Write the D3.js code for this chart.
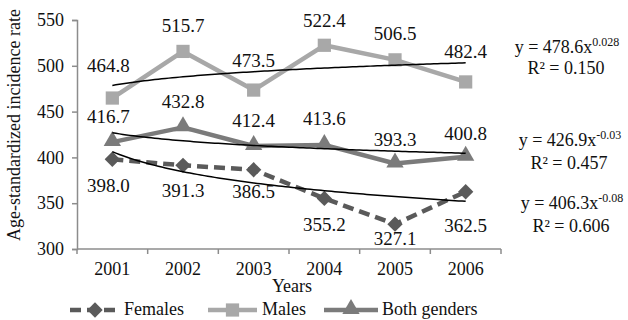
<!DOCTYPE html>
<html>
<head>
<meta charset="utf-8">
<script src="https://cdn.jsdelivr.net/npm/d3@7"></script>
<style>
  html, body { margin: 0; padding: 0; background: #ffffff; }
  svg { display: block; }
  text { font-family: "Liberation Serif", "Times New Roman", serif; fill: #111; }
</style>
</head>
<body>
<svg id="chart" width="628" height="320"></svg>
<script>
// Age-standardized incidence rate by year and gender
const years = ["2001", "2002", "2003", "2004", "2005", "2006"];
const females = [398.0, 391.3, 386.5, 355.2, 327.1, 362.5];
const males = [464.8, 515.7, 473.5, 522.4, 506.5, 482.4];
const both = [416.7, 432.8, 412.4, 413.6, 393.3, 400.8];
const yTicks = [300, 350, 400, 450, 500, 550];

// Power trend fits y = a * x^b (x = 1..6)
const trendA = [478.6, 426.9, 406.3];
const trendB = [0.028, -0.03, -0.08];
const trendLabels = [
  { base: "y = 478.6x", exp: "0.028", r2: "R² = 0.150" },
  { base: "y = 426.9x", exp: "-0.03", r2: "R² = 0.457" },
  { base: "y = 406.3x", exp: "-0.08", r2: "R² = 0.606" }
];

const svg = d3.select("#chart");
const plotLeft = 77, plotRight = 501, plotTop = 20, plotBottom = 249;

const x = d3.scaleBand().domain(years).range([plotLeft, plotRight]);
const y = d3.scaleLinear().domain([300, 550]).range([plotBottom, plotTop]);
const cx = d => x(d) + x.bandwidth() / 2;

const axisColor = "#8c8c8c";

// Y axis
const yAxis = svg.append("g")
  .attr("transform", `translate(${plotLeft},0)`)
  .call(d3.axisLeft(y).tickValues(yTicks).tickSize(5).tickPadding(8));
yAxis.select(".domain").attr("stroke", axisColor).attr("stroke-width", 1.5);
yAxis.selectAll(".tick line").attr("stroke", axisColor).attr("stroke-width", 1.5);
yAxis.selectAll(".tick text")
  .attr("font-size", 18).attr("font-family", "Liberation Serif").attr("fill", "#111");

// X axis: ticks at category boundaries
const xAxisG = svg.append("g").attr("transform", `translate(0,${plotBottom})`);
xAxisG.append("line")
  .attr("x1", plotLeft).attr("x2", plotRight)
  .attr("stroke", axisColor).attr("stroke-width", 1.5);
const boundaries = years.map(d => x(d)).concat([x(years[years.length - 1]) + x.bandwidth()]);
xAxisG.selectAll("line.tk").data(boundaries).enter().append("line")
  .attr("class", "tk")
  .attr("x1", d => d).attr("x2", d => d).attr("y1", 0).attr("y2", 5)
  .attr("stroke", axisColor).attr("stroke-width", 1.5);
xAxisG.selectAll("text").data(years).enter().append("text")
  .attr("x", d => cx(d)).attr("y", 26)
  .attr("text-anchor", "middle").attr("font-size", 18)
  .text(d => d);

// Axis titles
svg.append("text")
  .attr("x", 292).attr("y", 292)
  .attr("text-anchor", "middle").attr("font-size", 18)
  .text("Years");
svg.append("text")
  .attr("transform", "translate(20,125) rotate(-90)")
  .attr("text-anchor", "middle").attr("font-size", 18)
  .text("Age-standardized incidence rate");

// Series definitions
const series = [
  { name: "Females", values: females, color: "#5a5a5a", dash: "11,6", marker: "diamond" },
  { name: "Males", values: males, color: "#a8a8a8", dash: null, marker: "square" },
  { name: "Both genders", values: both, color: "#7b7b7b", dash: null, marker: "triangle" }
];

const markerPath = {
  diamond: d3.symbol().type(d3.symbolDiamond2 || d3.symbolDiamond).size(150)(),
  square: d3.symbol().type(d3.symbolSquare).size(175)(),
  triangle: d3.symbol().type(d3.symbolTriangle).size(130)()
};

const line = d3.line().x((v, i) => cx(years[i])).y(v => y(v));

// Draw order: males, both, females
[series[1], series[2], series[0]].forEach(s => {
  svg.append("path")
    .datum(s.values)
    .attr("d", line)
    .attr("fill", "none")
    .attr("stroke", s.color)
    .attr("stroke-width", 4.5)
    .attr("stroke-dasharray", s.dash)
    .attr("stroke-linejoin", "round");
  svg.selectAll(null).data(s.values).enter().append("path")
    .attr("d", markerPath[s.marker])
    .attr("transform", (v, i) => `translate(${cx(years[i])},${y(v) + (s.marker === "triangle" ? -1 : 0)})`)
    .attr("fill", s.color);
});

// Trend curves
const trendX = d3.range(1, 6.001, 0.05);
trendA.forEach((a, k) => {
  const b = trendB[k];
  const xp = d3.scaleLinear().domain([1, 6]).range([cx(years[0]), cx(years[5])]);
  svg.append("path")
    .datum(trendX)
    .attr("d", d3.line().x(t => xp(t)).y(t => y(a * Math.pow(t, b))))
    .attr("fill", "none")
    .attr("stroke", "#000")
    .attr("stroke-width", 1.5);
});

// Value labels (vertical offsets from each point)
const maleDy = [-26, -19, -23, -18, -20, -24];
const bothDy = [-19, -19, -19, -20, -18, -17];
const femaleDy = [33, 32, 28, 33, 21, 40];
function drawLabels(values, dys) {
  svg.selectAll(null).data(values).enter().append("text")
    .attr("x", (v, i) => cx(years[i]) - (i === 0 ? 4 : 0))
    .attr("y", (v, i) => y(v) + dys[i])
    .attr("text-anchor", "middle").attr("font-size", 19)
    .text(v => v.toFixed(1));
}
drawLabels(males, maleDy);
drawLabels(both, bothDy);
drawLabels(females, femaleDy);

// Trend equations
const eqPos = [[567, 53, 74], [570, 146, 169], [572, 209, 232]];
trendLabels.forEach((t, k) => {
  const [ex, ey, ry] = eqPos[k];
  const eq = svg.append("text")
    .attr("x", ex).attr("y", ey)
    .attr("text-anchor", "middle").attr("font-size", 18);
  eq.append("tspan").text(t.base);
  eq.append("tspan").attr("font-size", 12).attr("dy", -7).text(t.exp);
  svg.append("text")
    .attr("x", ex - 1).attr("y", ry)
    .attr("text-anchor", "middle").attr("font-size", 18)
    .text(t.r2);
});

// Legend
const legendY = 310;
const legendItems = [
  { s: series[0], x1: 70, x2: 120, tx: 124 },
  { s: series[1], x1: 208, x2: 257, tx: 262 },
  { s: series[2], x1: 324, x2: 378, tx: 382 }
];
legendItems.forEach(it => {
  const g = svg.append("g");
  g.append("line")
    .attr("x1", it.x1).attr("x2", it.x2)
    .attr("y1", legendY).attr("y2", legendY)
    .attr("stroke", it.s.color).attr("stroke-width", 4.5)
    .attr("stroke-dasharray", it.s.dash);
  g.append("path")
    .attr("d", markerPath[it.s.marker])
    .attr("transform", `translate(${(it.x1 + it.x2) / 2},${legendY + (it.s.marker === "triangle" ? -1 : 0)})`)
    .attr("fill", it.s.color);
  g.append("text")
    .attr("x", it.tx).attr("y", legendY + 5)
    .attr("font-size", 18)
    .text(it.s.name);
});
</script>
</body>
</html>
